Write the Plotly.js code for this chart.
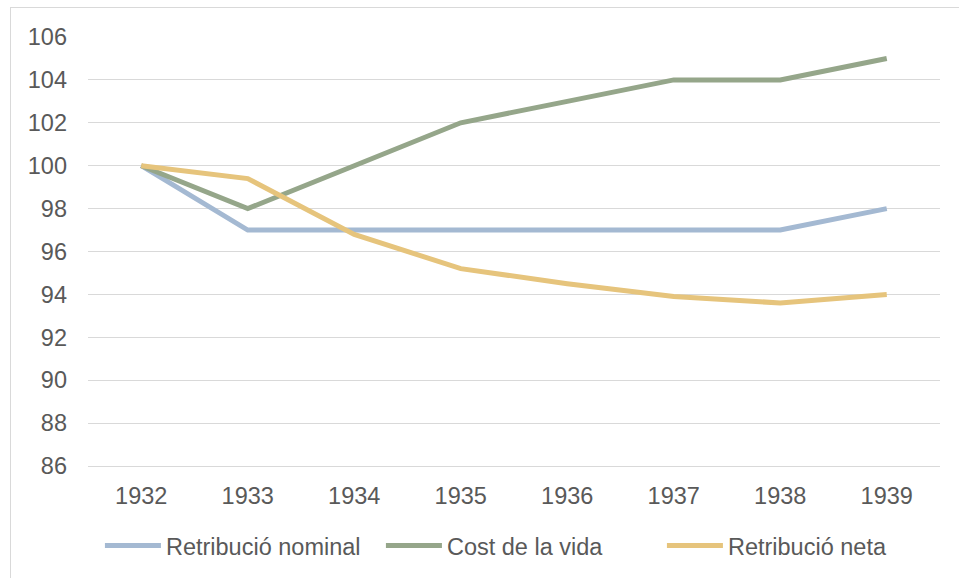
<!DOCTYPE html>
<html>
<head>
<meta charset="utf-8">
<script src="https://cdn.plot.ly/plotly-3.0.1.min.js"></script>
<style>
html,body{margin:0;padding:0;background:#fff;overflow:hidden;}
#chart{position:absolute;left:0;top:0;width:959px;height:578px;}
#frame{position:absolute;left:10px;top:7px;width:1000px;height:700px;border:1px solid #d9d9d9;pointer-events:none;}
</style>
</head>
<body>
<div id="chart"></div>
<div id="frame"></div>
<script>
const years = ['1932','1933','1934','1935','1936','1937','1938','1939'];
const nominal = [100, 97, 97, 97, 97, 97, 97, 98];
const costVida = [100, 98, 100, 102, 103, 104, 104, 105];
const neta = [100, 99.4, 96.8, 95.2, 94.5, 93.9, 93.6, 94.0];
const names = ['Retribució nominal', 'Cost de la vida', 'Retribució neta'];
const colors = ['#A4B9D2', '#95A68A', '#E6C47C'];
const yTicks = [86, 88, 90, 92, 94, 96, 98, 100, 102, 104, 106];

const series = [nominal, costVida, neta];
const traces = series.map((s, i) => ({
  type: 'scatter', mode: 'lines', x: years, y: s, name: names[i],
  line: {color: colors[i], width: 5}
}));

const font = {family: 'Liberation Sans, Arial, sans-serif', size: 23.5, color: '#595959'};
const layout = {
  width: 959, height: 578,
  margin: {l: 88, r: 19, t: 37, b: 112, autoexpand: false},
  paper_bgcolor: '#fff', plot_bgcolor: '#fff',
  font: font,
  showlegend: true,
  legend: {orientation: 'h', x: 0.014, xanchor: 'left', yref: 'container', y: 0.094, yanchor: 'top',
           font: font, itemwidth: 56, entrywidth: 210, entrywidthmode: 'pixels', traceorder: 'normal'},
  xaxis: {type: 'category', range: [-0.5, 7.5], showgrid: false, zeroline: false,
          showline: true, linecolor: '#d9d9d9', linewidth: 1,
          ticks: '', ticklabelstandoff: 9, tickfont: font, fixedrange: true},
  yaxis: {range: [86, 106], tickvals: yTicks, showgrid: true, gridcolor: '#d9d9d9', gridwidth: 1,
          zeroline: false, showline: false, ticks: '', ticklabelstandoff: 20, tickfont: font, fixedrange: true}
};
Plotly.newPlot('chart', traces, layout, {displayModeBar: false, staticPlot: true});
</script>
</body>
</html>
